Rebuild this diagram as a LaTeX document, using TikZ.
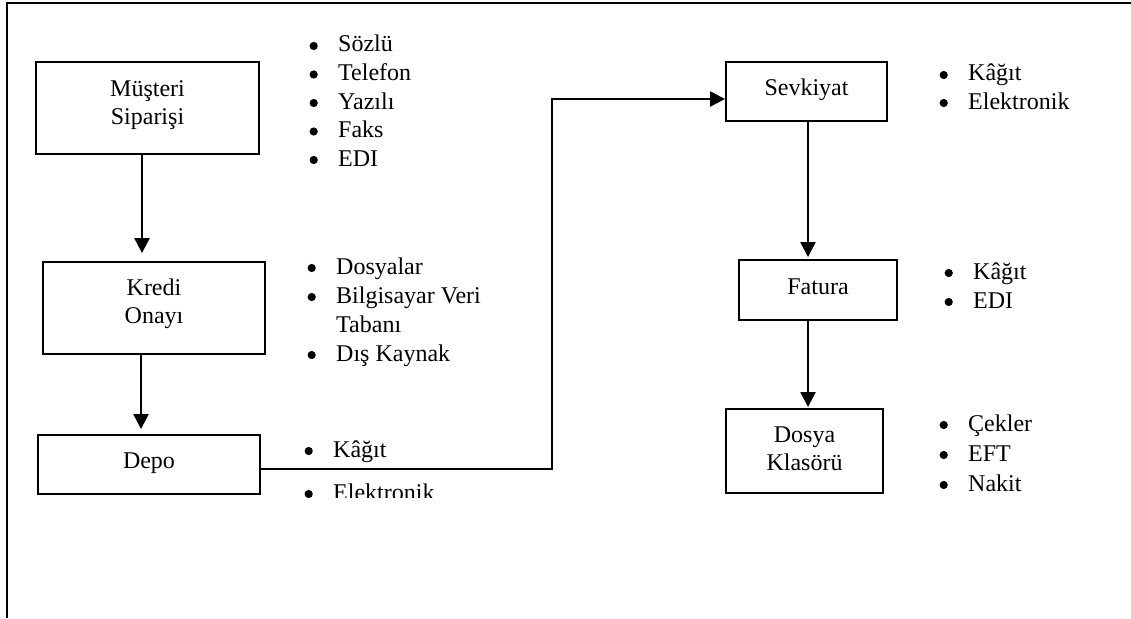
\documentclass[tikz,border=0pt]{standalone}
\usepackage{fontspec}
\setmainfont{Liberation Serif}
\usetikzlibrary{arrows.meta}
% round bullet hung to the left of an item's first letter
\newcommand\bul{\llap{\raisebox{1.9pt}{\tikz\fill (0pt,0pt) circle (4.1pt);}\hspace{20.4pt}}}
\begin{document}
\begin{tikzpicture}[x=1pt,y=-1pt,
  every node/.style={font=\fontsize{24}{28}\selectfont, inner sep=0pt},
  box/.style={draw, line width=1.9pt, align=center},
  item/.style={anchor=base west},
  flow/.style={line width=2.4pt, -{Triangle[length=15pt,width=15pt]}},
  frame/.style={line width=1.6pt}]
\useasboundingbox (0,0) rectangle (1131,618);

% page frame (top and left edges only)
\coordinate (ftl) at (7,3);
\coordinate (ftr) at (1131,3);
\coordinate (fbl) at (7,618);
\draw[frame] (ftr) -- (ftl) -- (fbl);

% process boxes
\node[box, minimum width=223pt, minimum height=92pt, text height=48pt, text depth=16pt]
  (mus) at (147.5,108) {Müşteri\\Siparişi};
\node[box, minimum width=222pt, minimum height=92pt, text height=46pt, text depth=16pt]
  (kredi) at (154,308) {Kredi\\Onayı};
\node[box, minimum width=222pt, minimum height=59pt, text height=17pt, text depth=10pt]
  (depo) at (149,464.5) {Depo};
\node[box, minimum width=161pt, minimum height=59pt, text height=17pt, text depth=10pt]
  (sevk) at (806.5,91.5) {Sevkiyat};
\node[box, minimum width=158pt, minimum height=60pt, text height=17pt, text depth=9pt]
  (fatura) at (818,290) {Fatura};
\node[box, minimum width=157pt, minimum height=84pt, text height=50pt, text depth=12pt]
  (dosya) at (804.5,451) {Dosya\\Klasörü};

% connectors
\draw[flow, shorten >=8pt] ([xshift=-5.5pt]mus.south) -- ([xshift=-5.5pt]mus.south |- kredi.north);
\draw[flow, shorten >=5pt] ([xshift=-13pt]kredi.south) -- ([xshift=-13pt]kredi.south |- depo.north);
\coordinate (elbow) at (552,99);
\draw[flow] ([yshift=-4.5pt]depo.east) -| (elbow) -- ([yshift=-7.5pt]sevk.west);
\draw[flow, shorten >=2pt] ([xshift=1.5pt]sevk.south) -- ([xshift=1.5pt]sevk.south |- fatura.north);
\draw[flow, shorten >=1pt] ([xshift=-10pt]fatura.south) -- ([xshift=-10pt]fatura.south |- dosya.north);

% order channels
\node[item] (m1) at (338,52) {\bul Sözlü};
\node[item] (m2) at (338,80.5) {\bul Telefon};
\node[item] (m3) at (338,109) {\bul Yazılı};
\node[item] (m4) at (338,137.5) {\bul Faks};
\node[item] (m5) at (338,166) {\bul EDI};

% credit sources
\node[item] (k1) at (336,274) {\bul Dosyalar};
\node[item] (k2) at (336,303) {\bul Bilgisayar Veri};
\node[item] (k3) at (336,332) {Tabanı};
\node[item] (k4) at (336,361) {\bul Dış Kaynak};

% warehouse media
\node[item] (d1) at (333,457) {\bul Kâğıt};
\begin{scope}
  \clip (0,0) rectangle (1131,497);
  \node[item] (d2) at (333,500) {\bul Elektronik};
\end{scope}

% shipping media
\node[item] (s1) at (968,81) {\bul Kâğıt};
\node[item] (s2) at (968,109) {\bul Elektronik};

% invoice media
\node[item] (f1) at (973,279) {\bul Kâğıt};
\node[item] (f2) at (973,308) {\bul EDI};

% payment types
\node[item] (p1) at (968,431) {\bul Çekler};
\node[item] (p2) at (968,461) {\bul EFT};
\node[item] (p3) at (968,491) {\bul Nakit};
\end{tikzpicture}
\end{document}
